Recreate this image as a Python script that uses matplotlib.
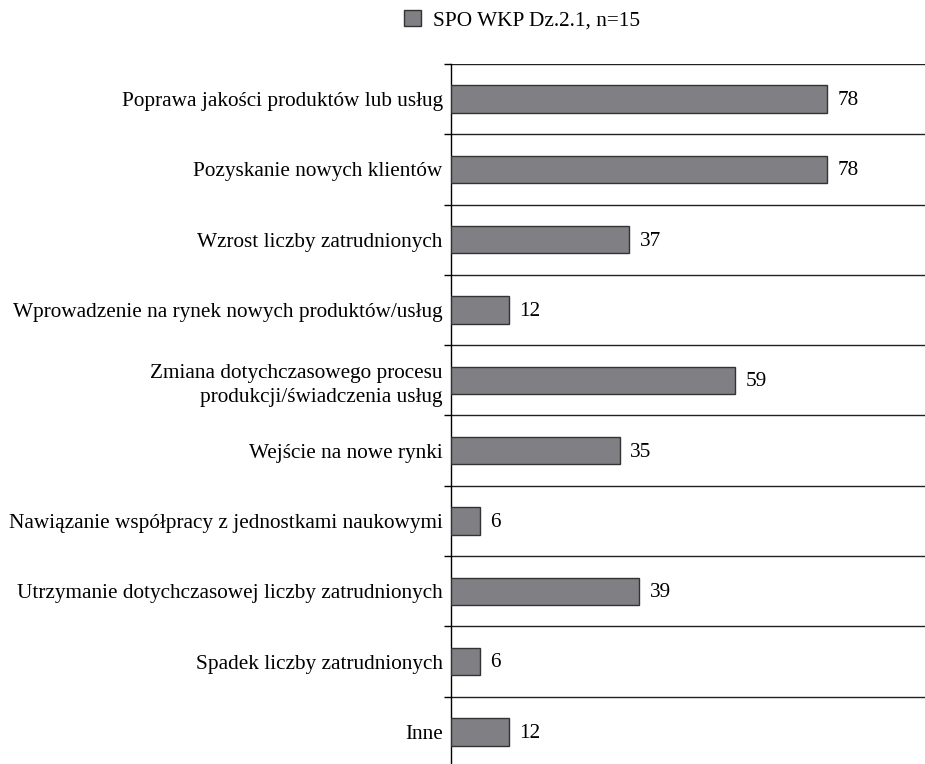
import matplotlib
matplotlib.use("Agg")
import matplotlib.pyplot as plt
from matplotlib.patches import Patch
import numpy as np

categories = [
    "Poprawa jakości produktów lub usług",
    "Pozyskanie nowych klientów",
    "Wzrost liczby zatrudnionych",
    "Wprowadzenie na rynek nowych produktów/usług",
    "Zmiana dotychczasowego procesu\nprodukcji/świadczenia usług",
    "Wejście na nowe rynki",
    "Nawiązanie współpracy z jednostkami naukowymi",
    "Utrzymanie dotychczasowej liczby zatrudnionych",
    "Spadek liczby zatrudnionych",
    "Inne",
]
values = [78, 78, 37, 12, 59, 35, 6, 39, 6, 12]
series_name = "SPO WKP Dz.2.1, n=15"

plt.rcParams['font.family'] = ['Liberation Serif', 'DejaVu Serif']
FS = 15.3

W, H = 925, 764
fig = plt.figure(figsize=(W / 100, H / 100), dpi=100)
ax_left, ax_right, ax_top, ax_bottom = 451, 925, 64, 764
ax = fig.add_axes([ax_left / W, 1 - ax_bottom / H, (ax_right - ax_left) / W, (ax_bottom - ax_top) / H])

n = len(categories)
pos = np.arange(n)
bar_color = "#808084"
ax.barh(pos, values, height=0.39, color=bar_color, edgecolor="#333333", linewidth=1.0, zorder=3)

for p, v in zip(pos, values):
    ax.text(v + 2.2, p + 0.02, f"{v}", va="center", ha="left", fontsize=FS, color="black")

row_px = 70.3
ylim_bottom = -0.5 + (ax_bottom - ax_top) / row_px
ax.set_ylim(ylim_bottom, -0.5)
ax.set_xlim(0, 98.3)

# boundaries as major ticks with gridlines; labels on minor ticks at centers
bounds = np.arange(-0.5, n - 1, 1.0)
ax.set_yticks(bounds)
ax.set_yticklabels([])
ax.tick_params(axis="y", which="major", length=5, width=1, color="black", direction="out")
ax.set_yticks(pos, minor=True)
ax.set_yticklabels(categories, minor=True, fontsize=FS, ha="right", linespacing=1.35)
ax.tick_params(axis="y", which="minor", length=0, pad=6)
ax.yaxis.grid(True, which="major", color="#222222", linewidth=1.0, zorder=0)

ax.set_xticks([])
for s in ["top", "right", "bottom"]:
    ax.spines[s].set_visible(False)
ax.spines["left"].set_color("black")
ax.spines["left"].set_linewidth(1.0)

handle = Patch(facecolor=bar_color, edgecolor="#333333", linewidth=1.0)
fig.legend([handle], [series_name], loc="center", bbox_to_anchor=(522 / W, 1 - 20 / H),
           frameon=False, fontsize=FS, handlelength=0.8, handleheight=0.8, handletextpad=0.6)

fig.savefig("out.png", dpi=100)
